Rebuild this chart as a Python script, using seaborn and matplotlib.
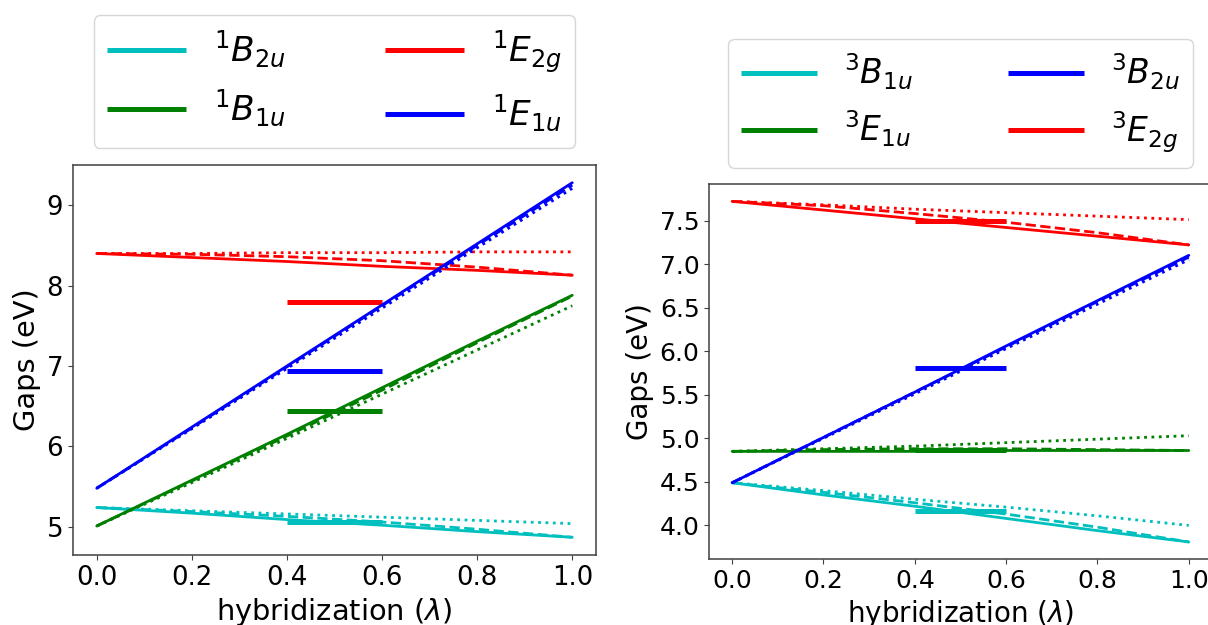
import matplotlib
matplotlib.use("Agg")
import matplotlib.pyplot as plt
import seaborn as sns

sns.set_style("ticks", {"axes.edgecolor": "0.25"})
plt.rcParams["font.family"] = ["DejaVu Sans"]
plt.rcParams["mathtext.fontset"] = "dejavusans"

# hybridization parameter
lam = [0.0, 0.2, 0.4, 0.6, 0.8, 1.0]
bar_x = [0.4, 0.6]

# ---- singlet states ----
s_labels = [r"$^1B_{2u}$", r"$^1B_{1u}$", r"$^1E_{2g}$", r"$^1E_{1u}$"]
s_colors = ["c", "g", "r", "b"]
s_solid = [
    [5.24, 5.17, 5.09, 5.02, 4.94, 4.87],
    [5.01, 5.58, 6.15, 6.73, 7.31, 7.88],
    [8.40, 8.35, 8.30, 8.24, 8.19, 8.13],
    [5.48, 6.24, 7.00, 7.76, 8.52, 9.28],
]
s_dashed = [
    [5.24, 5.19, 5.13, 5.06, 4.97, 4.87],
    [5.01, 5.57, 6.13, 6.70, 7.29, 7.87],
    [8.40, 8.39, 8.36, 8.31, 8.23, 8.13],
    [5.48, 6.23, 6.99, 7.75, 8.50, 9.25],
]
s_dotted = [
    [5.24, 5.20, 5.16, 5.12, 5.08, 5.04],
    [5.01, 5.55, 6.10, 6.65, 7.20, 7.75],
    [8.40, 8.40, 8.41, 8.41, 8.42, 8.42],
    [5.48, 6.22, 6.97, 7.72, 8.47, 9.21],
]
s_ref = [5.06, 6.44, 7.80, 6.94]

# ---- triplet states ----
t_labels = [r"$^3B_{1u}$", r"$^3E_{1u}$", r"$^3B_{2u}$", r"$^3E_{2g}$"]
t_colors = ["c", "g", "b", "r"]
t_solid = [
    [4.49, 4.35, 4.22, 4.08, 3.94, 3.81],
    [4.85, 4.85, 4.85, 4.86, 4.86, 4.86],
    [4.49, 5.01, 5.53, 6.06, 6.58, 7.10],
    [7.72, 7.62, 7.52, 7.42, 7.32, 7.22],
]
t_dashed = [
    [4.49, 4.38, 4.26, 4.13, 3.98, 3.81],
    [4.85, 4.87, 4.88, 4.88, 4.87, 4.86],
    [4.49, 5.01, 5.53, 6.05, 6.57, 7.08],
    [7.72, 7.67, 7.58, 7.48, 7.36, 7.22],
]
t_dotted = [
    [4.49, 4.40, 4.30, 4.21, 4.11, 4.00],
    [4.85, 4.88, 4.91, 4.95, 4.99, 5.03],
    [4.49, 5.00, 5.51, 6.03, 6.54, 7.05],
    [7.72, 7.68, 7.63, 7.59, 7.55, 7.51],
]
t_ref = [4.17, 4.86, 5.81, 7.49]

fig = plt.figure(figsize=(12.08, 6.25), dpi=100)
ax1 = fig.add_axes([0.0604, 0.112, 0.433, 0.624])
ax2 = fig.add_axes([0.5872, 0.1056, 0.4158, 0.5995])


def draw_panel(ax, labels, colors, solid, dashed, dotted, ref, scale, yticks):
    handles = []
    for lab, col, ys, yd, yp, yr in zip(labels, colors, solid, dashed, dotted, ref):
        sns.lineplot(x=lam, y=ys, ax=ax, color=col, lw=2, linestyle="-")
        sns.lineplot(x=lam, y=yd, ax=ax, color=col, lw=2, linestyle="--")
        sns.lineplot(x=lam, y=yp, ax=ax, color=col, lw=2, linestyle=":")
        sns.lineplot(x=bar_x, y=[yr, yr], ax=ax, color=col, lw=3.6,
                     solid_capstyle="butt")
        h = ax.lines[-1]
        h.set_label(lab)
        handles.append(h)
    ax.set_xticks([0.0, 0.2, 0.4, 0.6, 0.8, 1.0])
    ax.set_yticks(yticks)
    ax.tick_params(labelsize=18 * scale, color="0.25", labelcolor="black")
    ax.set_xlabel(r"hybridization ($\lambda$)", fontsize=20 * scale, color="black")
    ax.set_ylabel("Gaps (eV)", fontsize=20 * scale, color="black")
    for sp in ax.spines.values():
        sp.set_linewidth(1.1)
    leg = ax.legend(handles=handles, ncol=2, loc="lower center",
                    bbox_to_anchor=(0.5, 1.0), fontsize=23.8 * scale,
                    handlelength=2.3, columnspacing=2.9,
                    frameon=True, fancybox=True)
    for t in leg.get_texts():
        t.set_color("black")


draw_panel(ax1, s_labels, s_colors, s_solid, s_dashed, s_dotted, s_ref, 1.04,
           [5, 6, 7, 8, 9])
draw_panel(ax2, t_labels, t_colors, t_solid, t_dashed, t_dotted, t_ref, 1.0,
           [4.0, 4.5, 5.0, 5.5, 6.0, 6.5, 7.0, 7.5])
ax2.yaxis.set_major_formatter(matplotlib.ticker.FormatStrFormatter("%.1f"))

fig.savefig("out.png", dpi=100)
